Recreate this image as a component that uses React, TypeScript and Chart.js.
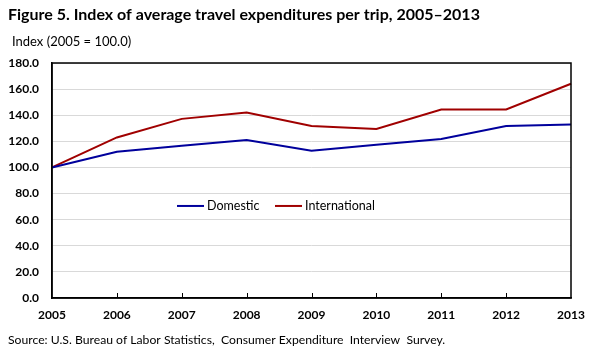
import React, { useEffect, useRef } from "react";
import { Chart, registerables } from "chart.js";

Chart.register(...registerables);

const years = ["2005", "2006", "2007", "2008", "2009", "2010", "2011", "2012", "2013"];
const domestic = [100, 112, 116.7, 121, 112.8, 117.4, 121.8, 131.8, 132.8];
const international = [100, 123, 137.2, 142, 131.8, 129.5, 144.4, 144.4, 164.1];
const yTicks = [0, 20, 40, 60, 80, 100, 120, 140, 160, 180];

const titleText = "Figure 5. Index of average travel expenditures per trip, 2005\u20132013";
const subtitleText = "Index (2005 = 100.0)";
const sourceText = "Source: U.S. Bureau of Labor Statistics,  Consumer Expenditure  Interview  Survey.";

const FONT = "Lato, 'Open Sans', sans-serif";
const BLUE = "#00009c";
const RED = "#a00000";

const decor = {
  id: "decor",
  afterDatasetsDraw(chart: any) {
    const { ctx, chartArea } = chart;
    const { left, right, top, bottom } = chartArea;
    ctx.save();
    ctx.strokeStyle = "#000";
    ctx.lineWidth = 1.5;
    ctx.strokeRect(left, top, right - left, bottom - top);
    const xs = chart.scales.x;
    ctx.lineWidth = 1;
    for (let i = 1; i < years.length - 1; i++) {
      const x = Math.round(xs.getPixelForValue(i)) + 0.5;
      ctx.beginPath();
      ctx.moveTo(x, bottom);
      ctx.lineTo(x, bottom - 5);
      ctx.stroke();
    }
    const ly = chart.scales.y.getPixelForValue(70.5);
    const items = [
      { label: "Domestic", color: BLUE, x: 177 },
      { label: "International", color: RED, x: 275 },
    ];
    ctx.font = `12.5px ${FONT}`;
    ctx.textBaseline = "middle";
    ctx.textAlign = "left";
    for (const it of items) {
      ctx.strokeStyle = it.color;
      ctx.lineWidth = 2;
      ctx.beginPath();
      ctx.moveTo(it.x, ly);
      ctx.lineTo(it.x + 27, ly);
      ctx.stroke();
      ctx.fillStyle = "#000";
      ctx.fillText(it.label, it.x + 30, ly);
    }
    ctx.fillStyle = "#000";
    ctx.font = `bold 16px ${FONT}`;
    ctx.fillText(titleText, 8, 15);
    ctx.font = `13px ${FONT}`;
    ctx.fillText(subtitleText, 12, 42);
    ctx.font = `12.2px ${FONT}`;
    ctx.fillText(sourceText, 8, 340);
    ctx.restore();
  },
};

export default function App() {
  const ref = useRef<HTMLCanvasElement>(null);
  useEffect(() => {
    if (!ref.current) return;
    const chart = new Chart(ref.current, {
      type: "line",
      data: {
        labels: years,
        datasets: [
          { label: "Domestic", data: domestic, borderColor: BLUE, borderWidth: 2, pointRadius: 0, tension: 0 },
          { label: "International", data: international, borderColor: RED, borderWidth: 2, pointRadius: 0, tension: 0 },
        ],
      },
      options: {
        responsive: false,
        animation: false,
        devicePixelRatio: 1,
        layout: { padding: { left: 0, right: 28, top: 63, bottom: 30 } },
        plugins: { legend: { display: false }, title: { display: false }, tooltip: { enabled: false } },
        scales: {
          x: {
            grid: { display: false, drawTicks: false },
            border: { display: true, color: "#000", width: 1.5 },
            ticks: {
              color: "#000",
              font: { family: FONT, size: 12, weight: "bold" },
              padding: 10,
              maxRotation: 0,
              autoSkip: false,
            },
            afterFit(scale: any) {
              scale.height = 31;
            },
          },
          y: {
            min: 0,
            max: 180,
            afterBuildTicks(scale: any) {
              scale.ticks = yTicks.map((v) => ({ value: v }));
            },
            grid: { color: "#d9d9d9", lineWidth: 1, drawTicks: false },
            border: { display: true, color: "#000", width: 1.5 },
            ticks: {
              color: "#000",
              font: { family: FONT, size: 12, weight: "bold" },
              padding: 13,
              callback: (v: any) => Number(v).toFixed(1),
            },
            afterFit(scale: any) {
              scale.width = 52;
            },
          },
        },
      },
      plugins: [decor],
    });
    return () => chart.destroy();
  }, []);
  return (
    <div style={{ position: "fixed", left: 0, top: 0, width: 599, height: 359, background: "#fff" }}>
      <canvas ref={ref} width={599} height={359} style={{ width: 599, height: 359 }} />
    </div>
  );
}
